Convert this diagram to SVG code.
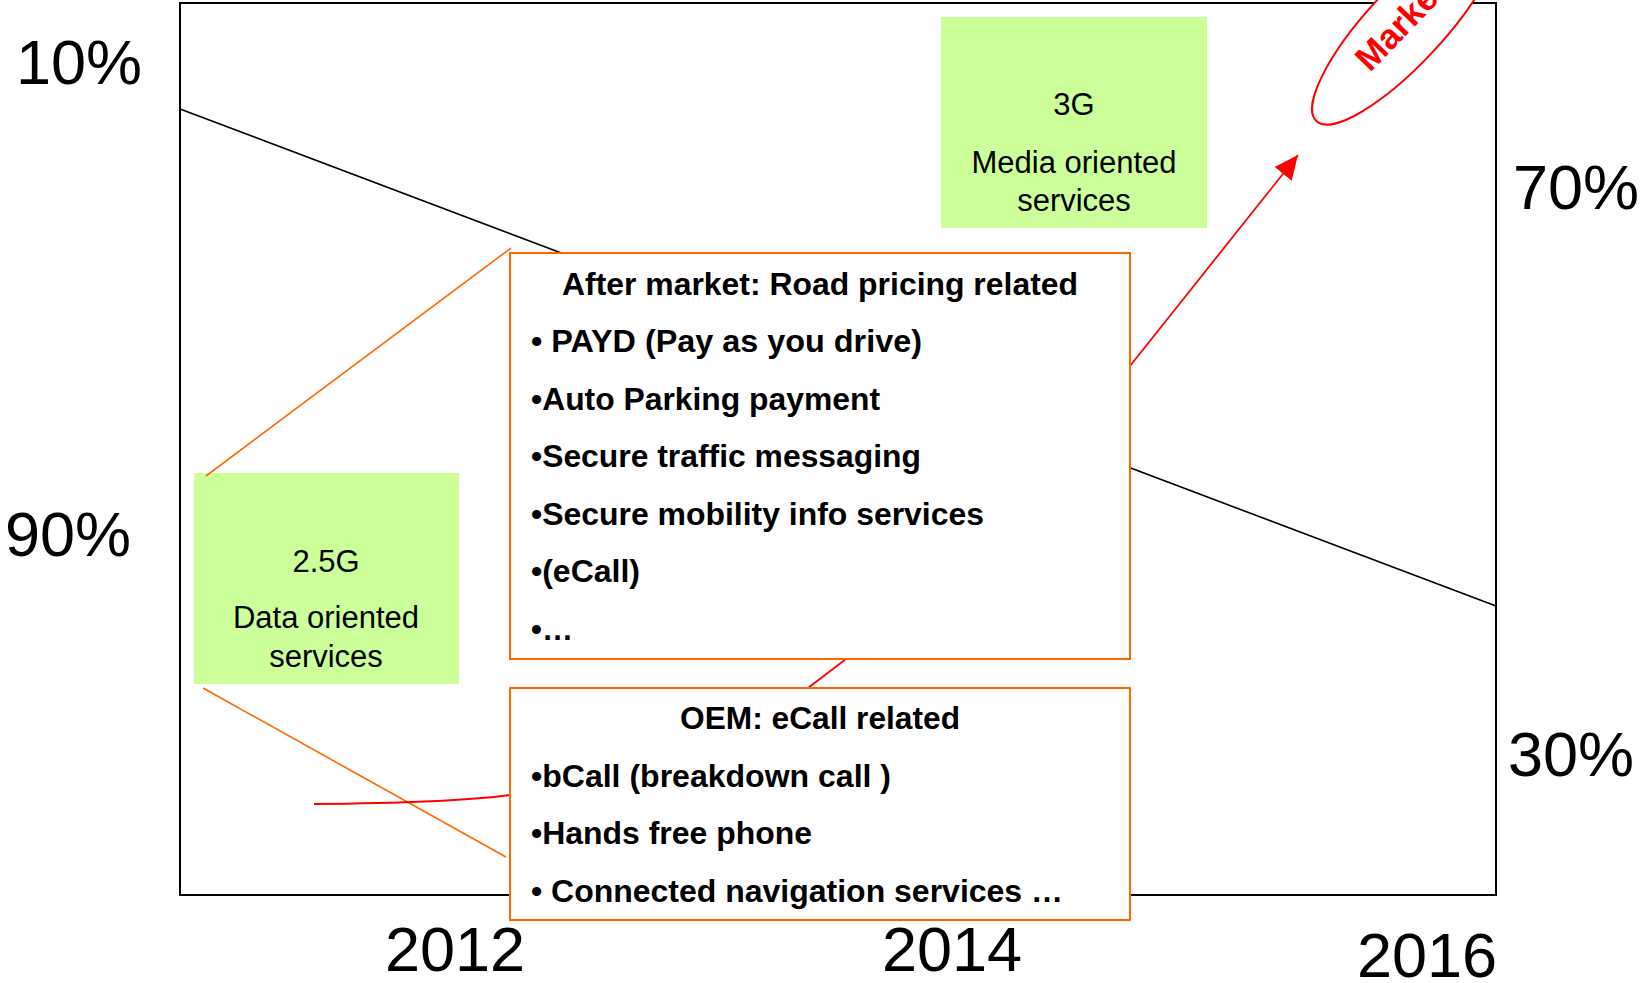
<svg xmlns="http://www.w3.org/2000/svg" width="1640" height="983" viewBox="0 0 1640 983">
<defs>
<style>
.ax{font-family:"Liberation Sans",Arial,sans-serif;font-size:63px;fill:#000}
.gt{font-family:"Liberation Sans",Arial,sans-serif;font-size:31px;fill:#000;text-anchor:middle}
.bt{font-family:"Liberation Sans",Arial,sans-serif;font-size:32px;font-weight:bold;fill:#000}
.green{fill:#CCFF99;stroke:none}
.obox{fill:#fff;stroke:#FF6600;stroke-width:2}
.ol{stroke:#FF6600;stroke-width:1.6;fill:none}
.rl{stroke:#FF0000;stroke-width:1.8;fill:none}
</style>
<marker id="arr" markerUnits="userSpaceOnUse" viewBox="0 0 24 22" refX="24" refY="11" markerWidth="24" markerHeight="22" orient="auto">
<path d="M0,0 L24,11 L0,22 Z" fill="#FF0000"/>
</marker>
</defs>
<rect width="1640" height="983" fill="#fff"/>
<g id="chart">
<rect x="180" y="3" width="1316" height="892" fill="none" stroke="#000" stroke-width="2"/>
<line x1="180" y1="109" x2="1496" y2="606" stroke="#000" stroke-width="1.6"/>
</g>
<g id="axis-labels">
<text class="ax" x="16" y="84">10%</text>
<text class="ax" x="5" y="556">90%</text>
<text class="ax" x="1513" y="209">70%</text>
<text class="ax" x="1508" y="776">30%</text>
<text class="ax" x="385" y="971">2012</text>
<text class="ax" x="882" y="971">2014</text>
<text class="ax" x="1357" y="977">2016</text>
</g>
<g id="node-3g">
<rect class="green" x="941" y="17" width="266" height="211"/>
<text class="gt" x="1074" y="115">3G</text>
<text class="gt" x="1074" y="173">Media oriented</text>
<text class="gt" x="1074" y="211">services</text>
</g>
<g id="node-25g">
<rect class="green" x="194" y="473" width="265" height="211"/>
<text class="gt" x="326" y="572">2.5G</text>
<text class="gt" x="326" y="628">Data oriented</text>
<text class="gt" x="326" y="667">services</text>
</g>
<g id="connectors">
<line class="ol" x1="206" y1="476" x2="511" y2="248"/>
<line class="ol" x1="203" y1="688" x2="506" y2="857"/>
<path class="rl" d="M314,804 Q450,803 510,795"/>
<line class="rl" x1="846" y1="659" x2="808" y2="688"/>
<line class="rl" x1="1130" y1="366" x2="1298" y2="155" stroke-width="2" marker-end="url(#arr)"/>
</g>
<g id="node-market">
<ellipse cx="1405" cy="26" rx="130" ry="38" transform="rotate(-47 1405 26)" fill="#fff" stroke="#FF0000" stroke-width="2"/>
<text x="1370" y="73" transform="rotate(-46 1370 73)" font-family="Liberation Sans,Arial,sans-serif" font-size="35" font-weight="bold" fill="#FF0000">Market</text>
</g>
<g id="node-aftermarket">
<rect class="obox" x="510" y="253" width="620" height="406"/>
<text class="bt" x="820" y="295" text-anchor="middle" textLength="516" lengthAdjust="spacingAndGlyphs">After market: Road pricing related</text>
<text class="bt" x="531" y="352" textLength="391" lengthAdjust="spacingAndGlyphs">• PAYD (Pay as you drive)</text>
<text class="bt" x="531" y="410" textLength="349" lengthAdjust="spacingAndGlyphs">•Auto Parking payment</text>
<text class="bt" x="531" y="467" textLength="390" lengthAdjust="spacingAndGlyphs">•Secure traffic messaging</text>
<text class="bt" x="531" y="525" textLength="453" lengthAdjust="spacingAndGlyphs">•Secure mobility info services</text>
<text class="bt" x="531" y="582" textLength="109" lengthAdjust="spacingAndGlyphs">•(eCall)</text>
<text class="bt" x="531" y="640" textLength="42" lengthAdjust="spacingAndGlyphs">•…</text>
</g>
<g id="node-oem">
<rect class="obox" x="510" y="688" width="620" height="232"/>
<text class="bt" x="820" y="729" text-anchor="middle" textLength="280" lengthAdjust="spacingAndGlyphs">OEM: eCall related</text>
<text class="bt" x="531" y="787" textLength="360" lengthAdjust="spacingAndGlyphs">•bCall (breakdown call )</text>
<text class="bt" x="531" y="844" textLength="281" lengthAdjust="spacingAndGlyphs">•Hands free phone</text>
<text class="bt" x="531" y="902" textLength="532" lengthAdjust="spacingAndGlyphs">• Connected navigation services …</text>
</g>
</svg>
